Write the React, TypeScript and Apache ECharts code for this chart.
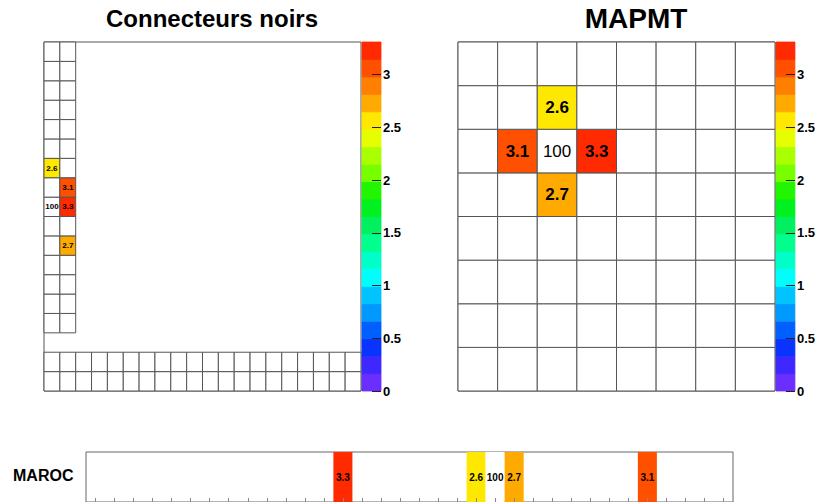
import React, { useEffect, useRef } from "react";
import * as echarts from "echarts";

// ---- colour scale ----
const Z_MAX = 3.31;
// 20 contour colours, bottom (0) to top (Z_MAX)
const PALETTE = [
  "#6A2EFF", "#3F28FF", "#0A33FF", "#0060FF", "#0099FF",
  "#00C3FF", "#00FFFC", "#00FFC8", "#00FF8C", "#00F060",
  "#00F020", "#22F500", "#77FF00", "#AAFF00", "#E5FF00",
  "#FFE800", "#FFAA00", "#FF7F00", "#FF5000", "#FF2A00",
];
const COLORBAR_TICKS = [0, 0.5, 1, 1.5, 2, 2.5, 3];
const COLORBAR_LEVELS = [0, 1, 2, 3, 4, 5, 6, 7, 8, 9, 10, 11, 12, 13, 14, 15, 16, 17, 18, 19];

// ---- Connecteurs noirs ----
const CN_X = [0, 1, 2, 3, 4, 5, 6, 7, 8, 9, 10, 11, 12, 13, 14, 15, 16, 17, 18, 19];
const CN_Y = [0, 1, 2, 3, 4, 5, 6, 7, 8, 9, 10, 11, 12, 13, 14, 15, 16, 17];
const CN_COLUMN_X = [0, 1];
const CN_COLUMN_Y = [3, 4, 5, 6, 7, 8, 9, 10, 11, 12, 13, 14, 15, 16, 17];
const CN_ROW_X = [0, 1, 2, 3, 4, 5, 6, 7, 8, 9, 10, 11, 12, 13, 14, 15, 16, 17, 18, 19];
const CN_ROW_Y = [0, 1];
const CN_VALUES: [number, number, number][] = [
  [0, 11, 2.6],
  [1, 10, 3.1],
  [0, 9, 100],
  [1, 9, 3.3],
  [1, 7, 2.7],
];

// ---- MAPMT ----
const PMT_X = [0, 1, 2, 3, 4, 5, 6, 7];
const PMT_Y = [0, 1, 2, 3, 4, 5, 6, 7];
const PMT_VALUES: [number, number, number][] = [
  [2, 6, 2.6],
  [1, 5, 3.1],
  [2, 5, 100],
  [3, 5, 3.3],
  [2, 4, 2.7],
];

// ---- MAROC ----
const MAROC_BINS = [
  0, 1, 2, 3, 4, 5, 6, 7, 8, 9, 10, 11, 12, 13, 14, 15, 16,
  17, 18, 19, 20, 21, 22, 23, 24, 25, 26, 27, 28, 29, 30, 31, 32, 33,
];
const MAROC_VALUES: [number, number][] = [
  [13, 3.3],
  [20, 2.6],
  [21, 100],
  [22, 2.7],
  [29, 3.1],
];

const FONT = "Liberation Sans, Arial, sans-serif";

function colorFor(v: number): string {
  if (!(v > 0) || v > Z_MAX) return "#ffffff";
  const i = Math.min(PALETTE.length - 1, Math.floor((v / Z_MAX) * PALETTE.length));
  return PALETTE[i];
}

type Cell = {
  x: number; y: number; v: number; fill: string;
  border: boolean; fontSize: number; label: boolean; bold: boolean; seamless: boolean;
};

function cellsCN(): Cell[] {
  const map = new Map<string, number>();
  CN_COLUMN_X.forEach((x) => CN_COLUMN_Y.forEach((y) => map.set(x + "," + y, 0)));
  CN_ROW_X.forEach((x) => CN_ROW_Y.forEach((y) => map.set(x + "," + y, 0)));
  CN_VALUES.forEach(([x, y, v]) => map.set(x + "," + y, v));
  const out: Cell[] = [];
  map.forEach((v, k) => {
    const [x, y] = k.split(",").map(Number);
    out.push({ x, y, v, fill: colorFor(v), border: true, fontSize: 8, label: v > 0, bold: true, seamless: false });
  });
  return out;
}

function cellsPMT(): Cell[] {
  const map = new Map<string, number>();
  PMT_X.forEach((x) => PMT_Y.forEach((y) => map.set(x + "," + y, 0)));
  PMT_VALUES.forEach(([x, y, v]) => map.set(x + "," + y, v));
  const out: Cell[] = [];
  map.forEach((v, k) => {
    const [x, y] = k.split(",").map(Number);
    out.push({ x, y, v, fill: colorFor(v), border: true, fontSize: 17, label: v > 0, bold: v <= Z_MAX, seamless: false });
  });
  return out;
}

function cellsMAROC(): Cell[] {
  return MAROC_VALUES.map(([b, v]) => ({
    x: b, y: 0, v, fill: colorFor(v), border: false, fontSize: 10, label: true, bold: true, seamless: false,
  }));
}

function cellsColorbar(): Cell[] {
  return COLORBAR_LEVELS.map((i) => ({
    x: 0, y: i, v: i, fill: PALETTE[i], border: false, fontSize: 0, label: false, bold: false, seamless: true,
  }));
}

function cellSeries(cells: Cell[], xAxisIndex: number, yAxisIndex: number, z = 2) {
  return {
    type: "custom",
    xAxisIndex,
    yAxisIndex,
    z,
    silent: true,
    encode: { x: 0, y: 1 },
    data: cells.map((c) => [c.x, c.y, c.v]),
    renderItem: (params: any, api: any) => {
      const c = cells[params.dataIndex];
      const p = api.coord([api.value(0), api.value(1)]);
      const s = api.size([1, 1]);
      const el: any = {
        type: "rect",
        shape: { x: p[0] - s[0] / 2, y: p[1] - s[1] / 2, width: s[0], height: s[1] },
        style: {
          fill: c.fill,
          stroke: c.border ? "#555555" : c.seamless ? c.fill : null,
          lineWidth: c.border ? 1 : c.seamless ? 0.8 : 0,
        },
      };
      if (c.label) {
        el.textContent = {
          style: {
            text: String(c.v),
            font: (c.bold ? "bold " : "") + c.fontSize + "px " + FONT,
            fill: "#000000",
          },
        };
        el.textConfig = { position: "inside" };
      }
      return el;
    },
  };
}

function colorbarValueAxis(gridIndex: number) {
  return {
    type: "value",
    gridIndex,
    position: "right",
    min: 0,
    max: Z_MAX,
    interval: 0.5,
    z: 10,
    axisLine: { show: false },
    splitLine: { show: false },
    axisTick: {
      show: true,
      inside: true,
      length: 9,
      lineStyle: { color: "#222222", width: 1 },
    },
    axisLabel: {
      show: true,
      margin: 2,
      fontSize: 13,
      fontWeight: "bold",
      fontFamily: FONT,
      color: "#000000",
      showMaxLabel: false,
      formatter: (v: number) =>
        COLORBAR_TICKS.some((t) => Math.abs(t - v) < 1e-6) ? String(v) : "",
    },
  };
}

export default function App() {
  const ref = useRef<HTMLDivElement>(null);

  useEffect(() => {
    if (!ref.current) return;
    const chart = echarts.init(ref.current, undefined, { renderer: "svg" });
    const hidden = { show: false };
    const option: any = {
      animation: false,
      backgroundColor: "#ffffff",
      grid: [
        { left: 44, top: 42, width: 317, height: 349, show: true, borderColor: "#555555", borderWidth: 1, backgroundColor: "#ffffff" },
        { left: 362, top: 42, width: 19, height: 349 },
        { left: 458, top: 42, width: 317, height: 349, show: true, borderColor: "#555555", borderWidth: 1, backgroundColor: "#ffffff" },
        { left: 776, top: 42, width: 19, height: 349 },
        { left: 86, top: 452, width: 647, height: 52, show: true, borderColor: "#666666", borderWidth: 1, backgroundColor: "#ffffff" },
      ],
      xAxis: [
        { type: "category", gridIndex: 0, data: CN_X, ...hidden },
        { type: "category", gridIndex: 1, data: ["z"], ...hidden },
        { type: "category", gridIndex: 2, data: PMT_X, ...hidden },
        { type: "category", gridIndex: 3, data: ["z"], ...hidden },
        {
          type: "category",
          gridIndex: 4,
          data: MAROC_BINS,
          z: 10,
          axisLine: { show: false },
          axisLabel: { show: false },
          splitLine: { show: false },
          axisTick: {
            show: true,
            inside: true,
            alignWithLabel: true,
            interval: 0,
            length: 4,
            lineStyle: { color: "#888888" },
          },
        },
      ],
      yAxis: [
        { type: "category", gridIndex: 0, data: CN_Y, ...hidden },
        { type: "category", gridIndex: 1, data: COLORBAR_LEVELS, ...hidden },
        colorbarValueAxis(1),
        { type: "category", gridIndex: 2, data: PMT_Y, ...hidden },
        { type: "category", gridIndex: 3, data: COLORBAR_LEVELS, ...hidden },
        colorbarValueAxis(3),
        { type: "category", gridIndex: 4, data: ["MAROC"], ...hidden },
      ],
      series: [
        cellSeries(cellsCN(), 0, 0),
        cellSeries(cellsColorbar(), 1, 1),
        cellSeries(cellsPMT(), 2, 3),
        cellSeries(cellsColorbar(), 3, 4),
        cellSeries(cellsMAROC(), 4, 6),
      ],
      graphic: [
        {
          type: "text",
          x: 212,
          y: 18,
          style: { text: "Connecteurs noirs", font: "bold 24px " + FONT, fill: "#000", textAlign: "center", textVerticalAlign: "middle" },
        },
        {
          type: "text",
          x: 636,
          y: 18,
          style: { text: "MAPMT", font: "bold 28px " + FONT, fill: "#000", textAlign: "center", textVerticalAlign: "middle" },
        },
        {
          type: "text",
          x: 13,
          y: 475,
          style: { text: "MAROC", font: "bold 16px " + FONT, fill: "#000", textAlign: "left", textVerticalAlign: "middle" },
        },
      ],
    };
    chart.setOption(option);
    return () => chart.dispose();
  }, []);

  return (
    <div
      ref={ref}
      style={{ position: "absolute", left: 0, top: 0, width: 818, height: 502, background: "#fff" }}
    />
  );
}
